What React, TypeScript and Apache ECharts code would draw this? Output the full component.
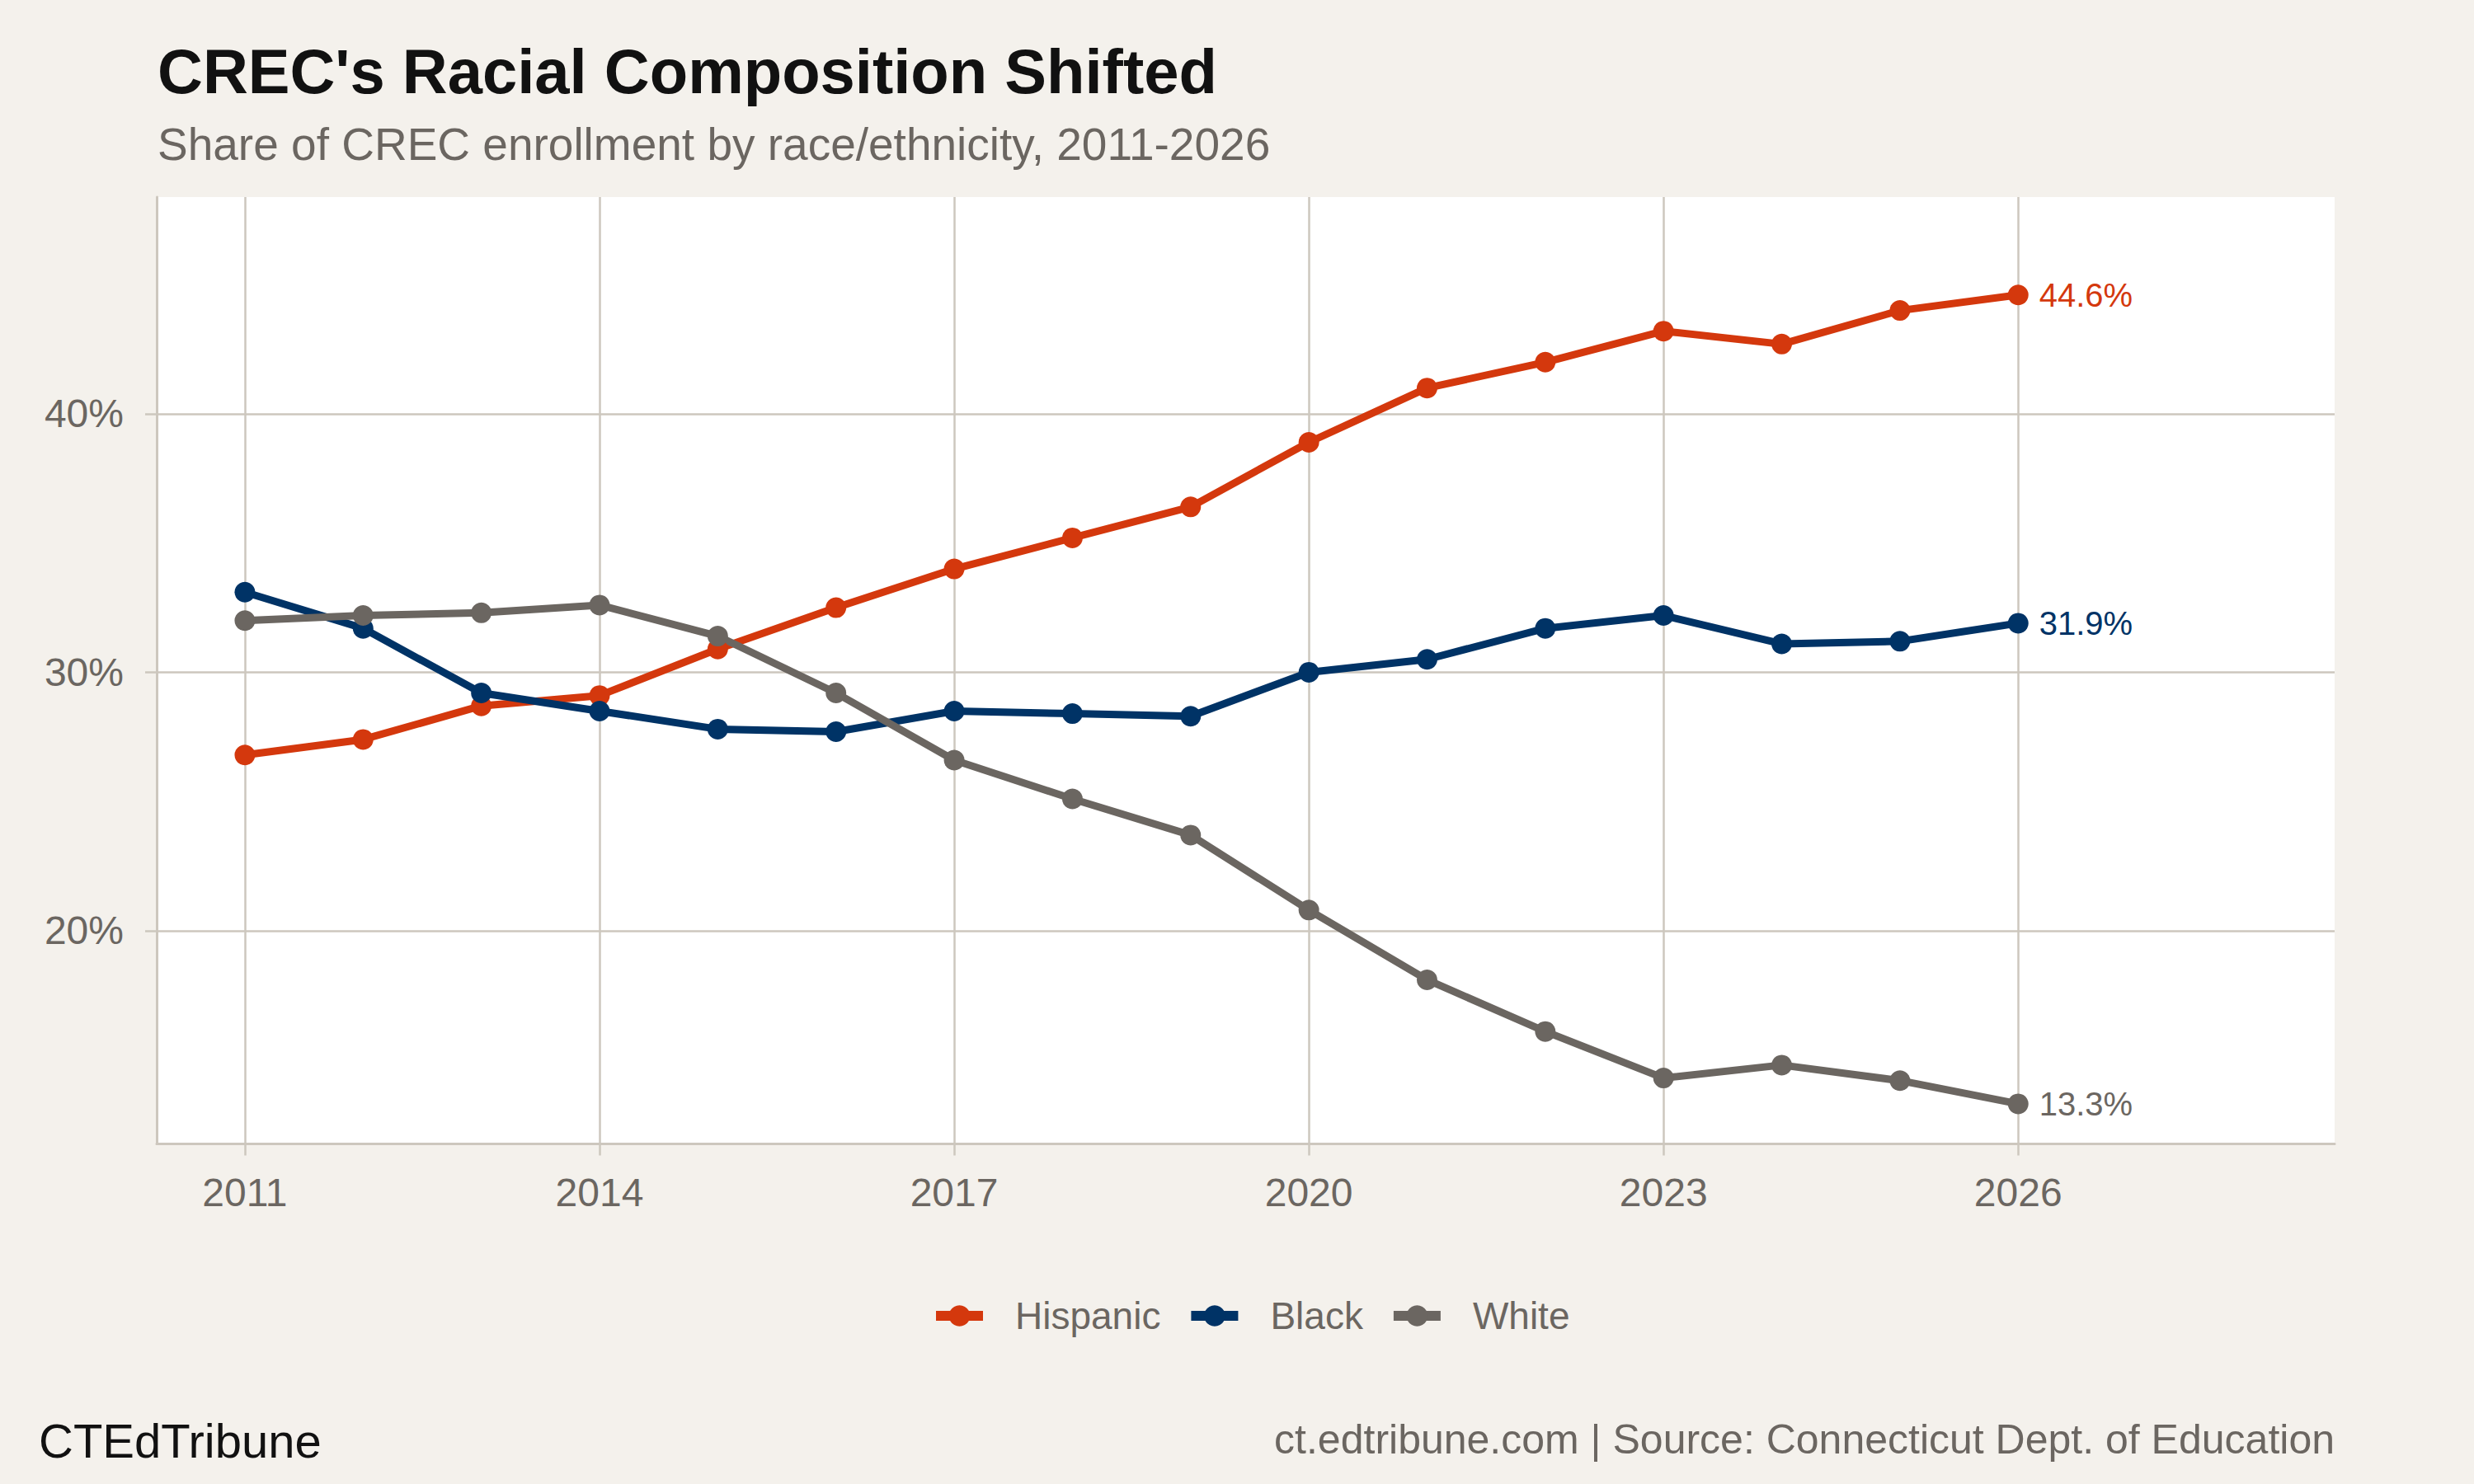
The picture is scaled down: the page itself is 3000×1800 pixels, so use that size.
import { useEffect, useRef } from "react";
import * as echarts from "echarts";

const YEARS = [2011, 2012, 2013, 2014, 2015, 2016, 2017, 2018, 2019, 2020, 2021, 2022, 2023, 2024, 2025, 2026];
const HISPANIC = [26.8, 27.4, 28.7, 29.1, 30.9, 32.5, 34.0, 35.2, 36.4, 38.9, 41.0, 42.0, 43.2, 42.7, 44.0, 44.6];
const BLACK = [33.1, 31.7, 29.2, 28.5, 27.8, 27.7, 28.5, 28.4, 28.3, 30.0, 30.5, 31.7, 32.2, 31.1, 31.2, 31.9];
const WHITE = [32.0, 32.2, 32.3, 32.6, 31.4, 29.2, 26.6, 25.1, 23.7, 20.8, 18.1, 16.1, 14.3, 14.8, 14.2, 13.3];

const X_TICKS = [2011, 2014, 2017, 2020, 2023, 2026];
const Y_TICKS = [20, 30, 40];

const FONT = "Liberation Sans";
const BG = "#F4F1EC";
const GRID = "#CDC7BE";
const MUTED = "#6B6661";

const SERIES = [
    { name: "Hispanic", values: HISPANIC, color: "#D4380D" },
    { name: "Black", values: BLACK, color: "#003366" },
    { name: "White", values: WHITE, color: "#6B6661" },
];

export default function App() {
    const ref = useRef<HTMLDivElement>(null);

    useEffect(() => {
        if (!ref.current) return;
        const chart = echarts.init(ref.current, null, { renderer: "svg" });

        chart.setOption({
            animation: false,
            backgroundColor: BG,
            textStyle: { fontFamily: FONT },
            grid: {
                left: 190,
                right: 169,
                top: 239,
                bottom: 412.5,
                show: true,
                backgroundColor: "#ffffff",
                borderWidth: 0,
                containLabel: false,
                outerBoundsMode: "none",
            },
            graphic: [
                {
                    type: "text",
                    left: 191,
                    top: 48,
                    style: { text: "CREC's Racial Composition Shifted", fill: "#111111", font: `bold 76px "${FONT}"` },
                },
                {
                    type: "text",
                    left: 191,
                    top: 147,
                    style: { text: "Share of CREC enrollment by race/ethnicity, 2011-2026", fill: MUTED, font: `55px "${FONT}"` },
                },
                {
                    type: "text",
                    left: 47,
                    top: 1718,
                    style: { text: "CTEdTribune", fill: "#111111", font: `58px "${FONT}"` },
                },
                {
                    type: "text",
                    right: 169,
                    top: 1721,
                    style: { text: "ct.edtribune.com | Source: Connecticut Dept. of Education", fill: MUTED, font: `50px "${FONT}"` },
                },
            ],
            legend: {
                left: 1124,
                top: 1568,
                itemWidth: 57,
                itemHeight: 32,
                itemGap: 31,
                data: SERIES.map((s) => s.name),
                lineStyle: { width: 12 },
                textStyle: { color: MUTED, fontSize: 46, fontFamily: FONT, padding: [0, 0, 0, 34] },
            },
            xAxis: {
                type: "value",
                min: 2010.254,
                max: 2028.677,
                axisLine: { onZero: false, lineStyle: { color: GRID, width: 3 } },
                axisTick: { show: true, customValues: X_TICKS, length: 14, lineStyle: { color: GRID, width: 2.5 } },
                axisLabel: {
                    customValues: X_TICKS,
                    margin: 35,
                    color: MUTED,
                    fontSize: 48,
                    fontFamily: FONT,
                    formatter: (v: number) => String(v),
                },
                splitLine: { show: true, lineStyle: { color: GRID, width: 2.5 } },
            },
            yAxis: {
                type: "value",
                min: 11.75,
                max: 48.39,
                axisLine: { show: true, onZero: false, lineStyle: { color: GRID, width: 3 } },
                axisTick: { show: true, customValues: Y_TICKS, length: 14, lineStyle: { color: GRID, width: 2.5 } },
                axisLabel: {
                    customValues: Y_TICKS,
                    margin: 40,
                    color: MUTED,
                    fontSize: 48,
                    fontFamily: FONT,
                    formatter: (v: number) => `${v}%`,
                },
                splitLine: { show: true, lineStyle: { color: GRID, width: 2.5 } },
            },
            series: SERIES.map((s) => ({
                name: s.name,
                type: "line",
                symbol: "circle",
                symbolSize: 25,
                showSymbol: true,
                lineStyle: { width: 9, color: s.color },
                itemStyle: { color: s.color },
                emphasis: { disabled: true },
                data: s.values.map((v, i) => ({
                    value: [YEARS[i], v],
                    label: {
                        show: i === s.values.length - 1,
                        position: "right",
                        distance: 13,
                        color: s.color,
                        fontSize: 40,
                        fontFamily: FONT,
                        formatter: () => `${v.toFixed(1)}%`,
                    },
                })),
            })),
        });

        return () => chart.dispose();
    }, []);

    return (
        <div
            ref={ref}
            style={{ position: "absolute", left: 0, top: 0, width: 3000, height: 1800 }}
        />
    );
}
